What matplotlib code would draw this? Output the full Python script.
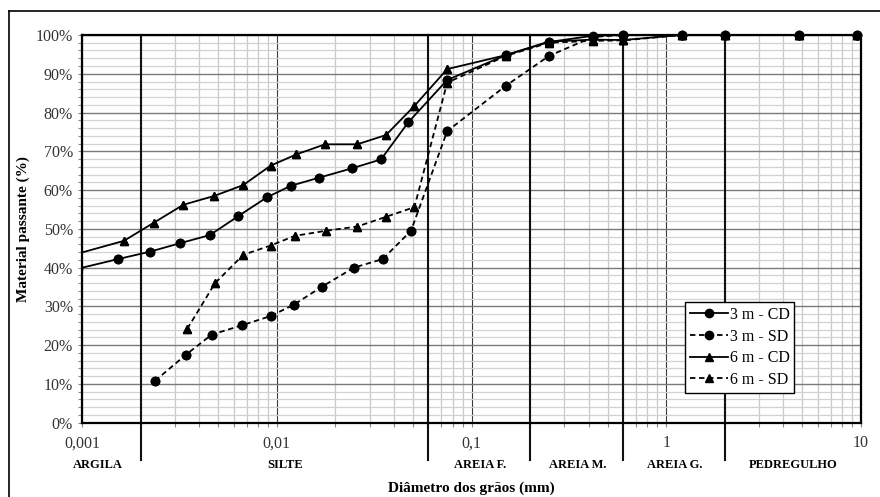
"""
Curvas granulometricas (3 m e 6 m, com e sem defloculante).
"""

import matplotlib
matplotlib.use("Agg")
import matplotlib.pyplot as plt
from matplotlib.lines import Line2D
from matplotlib.ticker import FixedLocator, FuncFormatter, MultipleLocator

plt.rcParams["font.family"] = ["Liberation Serif", "DejaVu Serif"]

# --------------------------------------------------------------------------
# dados (diametro em mm, % passante)
# --------------------------------------------------------------------------
d_3cd = [0.00095, 0.00153, 0.00223, 0.00319, 0.00454, 0.00635, 0.00888,
         0.0118, 0.0165, 0.0243, 0.0343, 0.0474,
         0.075, 0.15, 0.25, 0.42, 0.6, 1.2, 2.0, 4.8, 9.5]
p_3cd = [39.7, 42.2, 44.1, 46.3, 48.4, 53.3, 58.1,
         61.1, 63.2, 65.6, 67.9, 77.5,
         88.4, 94.8, 98.2, 99.8, 100, 100, 100, 100, 100]

d_3sd = [0.00237, 0.00341, 0.00463, 0.0066, 0.0093, 0.0122, 0.0171,
         0.0249, 0.035, 0.0489,
         0.075, 0.15, 0.25, 0.42, 0.6, 1.2, 2.0, 4.8, 9.5]
p_3sd = [10.8, 17.5, 22.7, 25.1, 27.5, 30.4, 35.1,
         40.0, 42.2, 49.5,
         75.2, 86.9, 94.6, 99.5, 100, 100, 100, 100, 100]

d_6cd = [0.00095, 0.00164, 0.00234, 0.00331, 0.00478, 0.00673, 0.0093,
         0.0126, 0.0177, 0.0259, 0.0364, 0.0509,
         0.075, 0.15, 0.25, 0.42, 0.6, 1.2, 2.0, 4.8, 9.5]
p_6cd = [43.6, 46.9, 51.6, 56.2, 58.5, 61.3, 66.3,
         69.2, 71.8, 71.8, 74.2, 81.7,
         91.2, 94.8, 98.3, 98.8, 98.7, 100, 100, 100, 100]

d_6sd = [0.00347, 0.00482, 0.00673, 0.0093, 0.0124, 0.0179,
         0.0259, 0.0364, 0.0509,
         0.075, 0.15, 0.25, 0.42, 0.6, 1.2, 2.0, 4.8, 9.5]
p_6sd = [24.2, 36.0, 43.3, 45.7, 48.2, 49.5,
         50.6, 53.1, 55.6,
         87.7, 94.6, 98.0, 98.5, 98.6, 100, 100, 100, 100]

# limites das fracoes (mm) e nomes
limites = [0.002, 0.06, 0.2, 0.6, 2.0]
fracoes = ["ARGILA", "SILTE", "AREIA F.", "AREIA M.", "AREIA G.", "PEDREGULHO"]
pos_fracoes = [0.0012, 0.011, 0.11, 0.35, 1.1, 4.47]

x_ticks = [0.001, 0.01, 0.1, 1, 10]
x_labels = ["0,001", "0,01", "0,1", "1", "10"]

series = [
    (d_3cd, p_3cd, "o", "-", "3 m - CD"),
    (d_3sd, p_3sd, "o", "--", "3 m - SD"),
    (d_6cd, p_6cd, "^", "-", "6 m - CD"),
    (d_6sd, p_6sd, "^", "--", "6 m - SD"),
]

fig = plt.figure(figsize=(8.8, 4.97), dpi=100)
ax = fig.add_axes([0.0932, 0.1495, 0.8852, 0.7801])

ax.set_xscale("log")
ax.set_xlim(0.001, 10)
ax.set_ylim(0, 100)

# grade
ax.xaxis.set_major_locator(FixedLocator(x_ticks))
minors = [m * 10.0 ** e for e in range(-3, 1) for m in range(2, 10)]
ax.xaxis.set_minor_locator(FixedLocator(minors))
ax.yaxis.set_major_locator(MultipleLocator(10))
ax.yaxis.set_minor_locator(MultipleLocator(2))
ax.set_xticklabels(x_labels)
ax.yaxis.set_major_formatter(FuncFormatter(lambda v, _: f"{v:.0f}%"))

ax.grid(True, axis="x", which="major", color="#3a3a3a", lw=0.8)
ax.grid(True, axis="x", which="minor", color="#c8c8c8", lw=0.9)
ax.grid(True, axis="y", which="major", color="#7a7a7a", lw=1.0)
ax.grid(True, axis="y", which="minor", color="#d2d2d2", lw=0.9)
ax.set_axisbelow(True)

ax.tick_params(which="both", direction="out", length=3, width=0.8,
               color="#888888", labelsize=11.5, labelcolor="#333333")
ax.tick_params(axis="x", pad=6)
for s in ax.spines.values():
    s.set_linewidth(1.6)
    s.set_color("black")

# limites das fracoes, prolongados abaixo do eixo
for x in limites:
    ax.axvline(x, ymin=-0.096, ymax=1, color="#111111", lw=1.5,
               clip_on=False, zorder=2)

# curvas (linha recortada no eixo, marcadores inteiros na borda)
for d, p, mk, ls, lab in series:
    kw = dict(dashes=(3, 2)) if ls == "--" else {}
    ax.plot(d, p, ls, marker=mk, color="black", lw=1.3, ms=6,
            label=lab, zorder=4, **kw)
    dd = [x for x in d if x >= 0.001]
    pp = [y for x, y in zip(d, p) if x >= 0.001]
    ax.plot(dd, pp, ls="none", marker=mk, color="black", ms=6,
            clip_on=False, zorder=5)

leg = ax.legend(loc="upper left", bbox_to_anchor=(0.774, 0.3106),
                borderaxespad=0, fancybox=False, framealpha=1,
                edgecolor="black", fontsize=11.5, handlelength=2.4,
                handletextpad=0.1, labelspacing=0.35, borderpad=0.3)
leg.get_frame().set_linewidth(1.0)
leg.set_zorder(6)

# nomes das fracoes
trans = ax.get_xaxis_transform()
for nome, x in zip(fracoes, pos_fracoes):
    ax.text(x, -0.11, nome, transform=trans, ha="center", va="center",
            fontsize=9, fontweight="bold")

ax.set_xlabel("Diâmetro dos grãos (mm)", fontsize=11, fontweight="bold",
              labelpad=22)
ax.set_ylabel("Material passante (%)", fontsize=11, fontweight="bold",
              labelpad=4)

# moldura externa
fig.add_artist(Line2D([9 / 880, 9 / 880], [0, 1 - 11 / 497],
                      transform=fig.transFigure, color="black", lw=1.2))
fig.add_artist(Line2D([9 / 880, 1], [1 - 11 / 497, 1 - 11 / 497],
                      transform=fig.transFigure, color="black", lw=1.2))

fig.savefig("out.png", dpi=100)
